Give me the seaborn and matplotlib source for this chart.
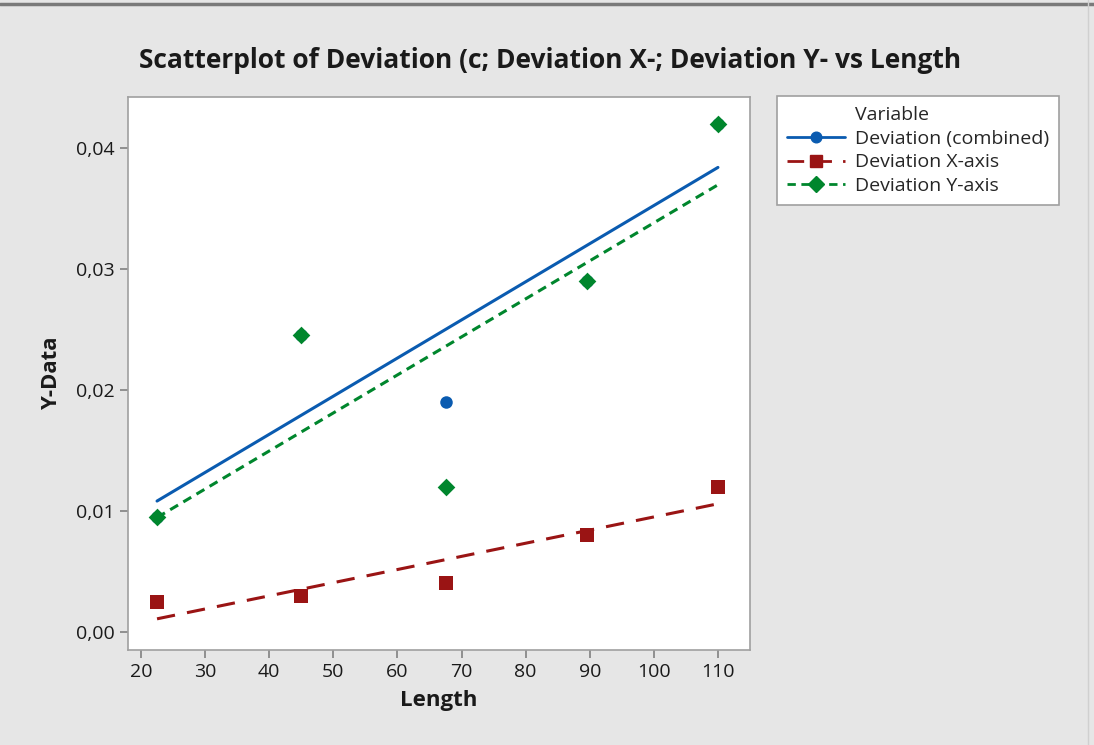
import pandas as pd
import seaborn as sns
import matplotlib.pyplot as plt
from matplotlib.lines import Line2D

# values
length = [22.5, 45, 67.5, 89.5, 110]
dev_combined = [0.0095, 0.0245, 0.019, 0.029, 0.042]
dev_x = [0.0025, 0.003, 0.004, 0.008, 0.012]
dev_y = [0.0095, 0.0245, 0.012, 0.029, 0.042]

series = ["Deviation (combined)", "Deviation X-axis", "Deviation Y-axis"]
colors = ["#0a5bb0", "#9a1414", "#00862d"]
markers = ["o", "s", "D"]
sizes = [9, 10, 9]
dashes = [(None, None), (6, 4), (3, 2)]

data = pd.DataFrame({"Length": length,
                     series[0]: dev_combined,
                     series[1]: dev_x,
                     series[2]: dev_y})
data = data.melt(id_vars="Length", var_name="Variable", value_name="Y-Data")

sns.set_style("ticks")
plt.rcParams["font.family"] = ["Open Sans", "DejaVu Sans"]

fig = plt.figure(figsize=(10.94, 7.45), dpi=100, facecolor="#e6e6e6")
ax = fig.add_axes([128 / 1094, 1 - 650 / 745, 622 / 1094, 553 / 745])
ax.set_facecolor("white")

for name, c, m, s, d in zip(series, colors, markers, sizes, dashes):
    sub = data[data["Variable"] == name]
    line_kws = {"color": c, "lw": 2.2}
    if d[0] is not None:
        line_kws["dashes"] = d
    sns.regplot(data=sub, x="Length", y="Y-Data", ax=ax, ci=None, truncate=True,
                marker=m, color=c,
                scatter_kws={"s": s ** 2, "alpha": 1, "linewidths": 0, "zorder": 3},
                line_kws=line_kws)

ax.set_xlim(17.97, 115)
ax.set_ylim(-0.0015, 0.0442)
ax.set_xticks(range(20, 111, 10))
ax.set_yticks([0, 0.01, 0.02, 0.03, 0.04])
ax.set_yticklabels(["0,00", "0,01", "0,02", "0,03", "0,04"])
for sp in ax.spines.values():
    sp.set_visible(True)
    sp.set_color("#a0a0a0")
    sp.set_linewidth(1.2)
ax.tick_params(axis="both", colors="#808080", length=6, width=1.2, labelsize=14,
               labelcolor="#1a1a1a", direction="out")
ax.set_xlabel("Length", fontsize=16, fontweight="bold", color="#1a1a1a", labelpad=6)
ax.set_ylabel("Y-Data", fontsize=16, fontweight="bold", color="#1a1a1a", labelpad=10)

fig.text(550 / 1094, 1 - 60 / 745,
         "Scatterplot of Deviation (c; Deviation X-; Deviation Y- vs Length",
         ha="center", va="center", fontsize=19, fontweight="bold", color="#1a1a1a")

# top window border
fig.add_artist(Line2D([0, 1], [1 - 4 / 745, 1 - 4 / 745], color="#7a7a7a", lw=2.5))
fig.add_artist(Line2D([1 - 6 / 1094, 1 - 6 / 1094], [0, 1], color="#d0d0d0", lw=1))

handles = [Line2D([], [], linestyle="none", label="Variable")]
for name, c, m, s, d in zip(series, colors, markers, sizes, dashes):
    h = Line2D([], [], color=c, marker=m, markersize=s * 0.85, lw=2, label=name)
    if d[0] is not None:
        h.set_dashes(d)
    handles.append(h)
leg = fig.legend(handles=handles, loc="upper left",
                 bbox_to_anchor=(777 / 1094, 1 - 96 / 745), frameon=True,
                 fancybox=False, edgecolor="#a0a0a0", facecolor="white",
                 framealpha=1, fontsize=14,
                 handlelength=3.0, handletextpad=0.5, labelspacing=0.3,
                 borderpad=0.5, borderaxespad=0)
leg.get_frame().set_linewidth(1.2)

fig.savefig("out.png", dpi=100, facecolor=fig.get_facecolor())
